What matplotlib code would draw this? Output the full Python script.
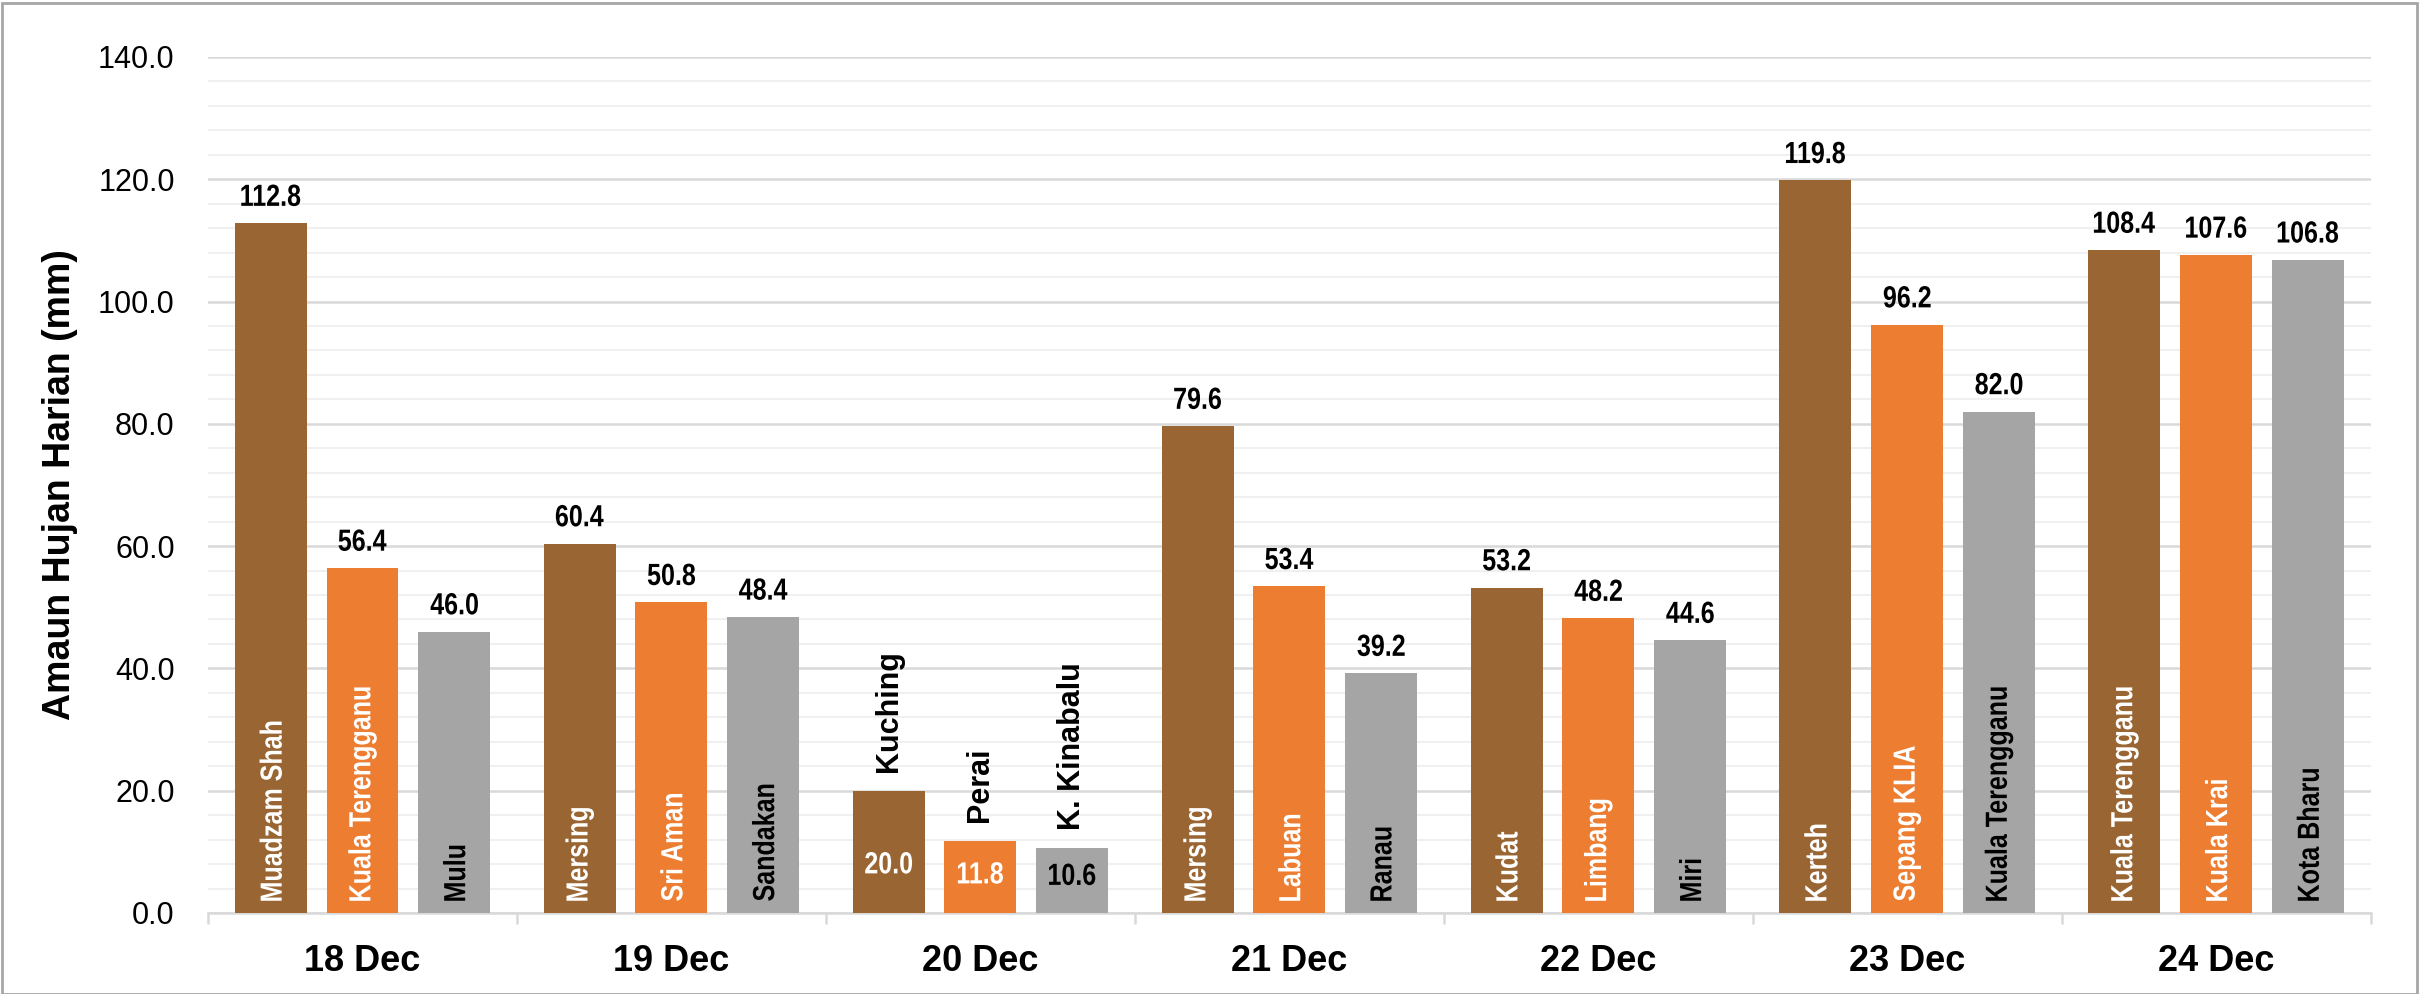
import numpy as np
import matplotlib.pyplot as plt
from matplotlib.ticker import MultipleLocator
from matplotlib.textpath import TextPath
from matplotlib.patches import PathPatch
from matplotlib.font_manager import FontProperties
from matplotlib.transforms import Affine2D

# Data
dates = ["18 Dec", "19 Dec", "20 Dec", "21 Dec", "22 Dec", "23 Dec", "24 Dec"]
stn_1 = ["Muadzam Shah", "Mersing", "Kuching", "Mersing", "Kudat", "Kerteh", "Kuala Terengganu"]
val_1 = [112.8, 60.4, 20.0, 79.6, 53.2, 119.8, 108.4]
stn_2 = ["Kuala Terengganu", "Sri Aman", "Perai", "Labuan", "Limbang", "Sepang KLIA", "Kuala Krai"]
val_2 = [56.4, 50.8, 11.8, 53.4, 48.2, 96.2, 107.6]
stn_3 = ["Mulu", "Sandakan", "K. Kinabalu", "Ranau", "Miri", "Kuala Terengganu", "Kota Bharu"]
val_3 = [46.0, 48.4, 10.6, 39.2, 44.6, 82.0, 106.8]

colors = ["#996633", "#ED7D31", "#A5A5A5"]
name_colors = ["white", "white", "black"]

DPI = 100
REG = ["Liberation Sans", "DejaVu Sans"]
BOLD = FontProperties(family=REG, weight="bold")

fig = plt.figure(figsize=(24.19, 9.94), dpi=DPI)
ax = fig.add_axes([0.086, 0.0815, 0.894, 0.8612])
ax.set_xlim(0, len(dates))
ax.set_ylim(0, 140)


def narrow_text(x, y, s, size, color, rot=0, anchor=(0.5, 0.0), squeeze=0.82):
    """Condensed bold text (like Arial Narrow) drawn as a path, anchored at data (x, y)."""
    tp = TextPath((0, 0), s, size=size * DPI / 72, prop=BOLD)
    bb = tp.get_extents()
    ax0 = bb.x0 + anchor[0] * bb.width
    ay0 = bb.y0 + anchor[1] * bb.height
    px, py = ax.transData.transform((x, y))
    tr = (Affine2D().translate(-ax0, -ay0).scale(squeeze, 1)
          .rotate_deg(rot).translate(px, py))
    fig.add_artist(PathPatch(tp, transform=tr, facecolor=color, lw=0, zorder=5))


x = np.arange(len(dates)) + 0.5
width = 0.233
offsets = [-0.297, 0.0, 0.297]

for k, (stn, val) in enumerate([(stn_1, val_1), (stn_2, val_2), (stn_3, val_3)]):
    xs = x + offsets[k]
    ax.bar(xs, val, width, color=colors[k], zorder=3)
    for xi, v, name in zip(xs, val, stn):
        if v < 30:
            # short bars: name above, value inside
            ax.text(xi, v + 3, name, rotation=90, ha="center", va="bottom",
                    fontsize=22, fontweight="bold", family=REG, color="black", zorder=4)
            narrow_text(xi, 0.2 * v + 4.2, f"{v:.1f}", 22, name_colors[k], anchor=(0.5, 0.5))
        else:
            narrow_text(xi, 2, name, 22, name_colors[k], rot=90, anchor=(0.0, 0.5))
            narrow_text(xi, v + 2.8, f"{v:.1f}", 22, "black", anchor=(0.5, 0.0))

ax.yaxis.set_minor_locator(MultipleLocator(4))
ax.set_yticks(np.arange(0, 141, 20))
ax.set_yticklabels([f"{t:.1f}" for t in np.arange(0, 141, 20)], family=REG, fontsize=22)
ax.grid(axis="y", which="major", color="#D9D9D9", lw=1.8, zorder=0)
ax.grid(axis="y", which="minor", color="#F0F0F0", lw=1.5, zorder=0)
ax.tick_params(axis="y", which="both", length=0, pad=24)

ax.set_xticks(x)
ax.set_xticklabels(dates, fontsize=26, fontweight="bold", family=REG)
ax.set_xticks(np.arange(0, len(dates) + 1), minor=True)
ax.tick_params(axis="x", which="major", length=0, pad=22)
ax.tick_params(axis="x", which="minor", length=8, width=1.8, color="#D9D9D9")

for s in ["top", "right", "left"]:
    ax.spines[s].set_visible(False)
ax.spines["bottom"].set_color("#D9D9D9")
ax.spines["bottom"].set_linewidth(1.8)

ax.set_ylabel("Amaun Hujan Harian (mm)", fontsize=27, fontweight="bold", family=REG)
ax.yaxis.set_label_coords(-0.060, 0.5)

fig.patches.append(plt.Rectangle((0.001, 0.0), 0.998, 0.997, transform=fig.transFigure,
                                 fill=False, edgecolor="#A6A6A6", lw=2))

fig.savefig("out.png", dpi=DPI)
